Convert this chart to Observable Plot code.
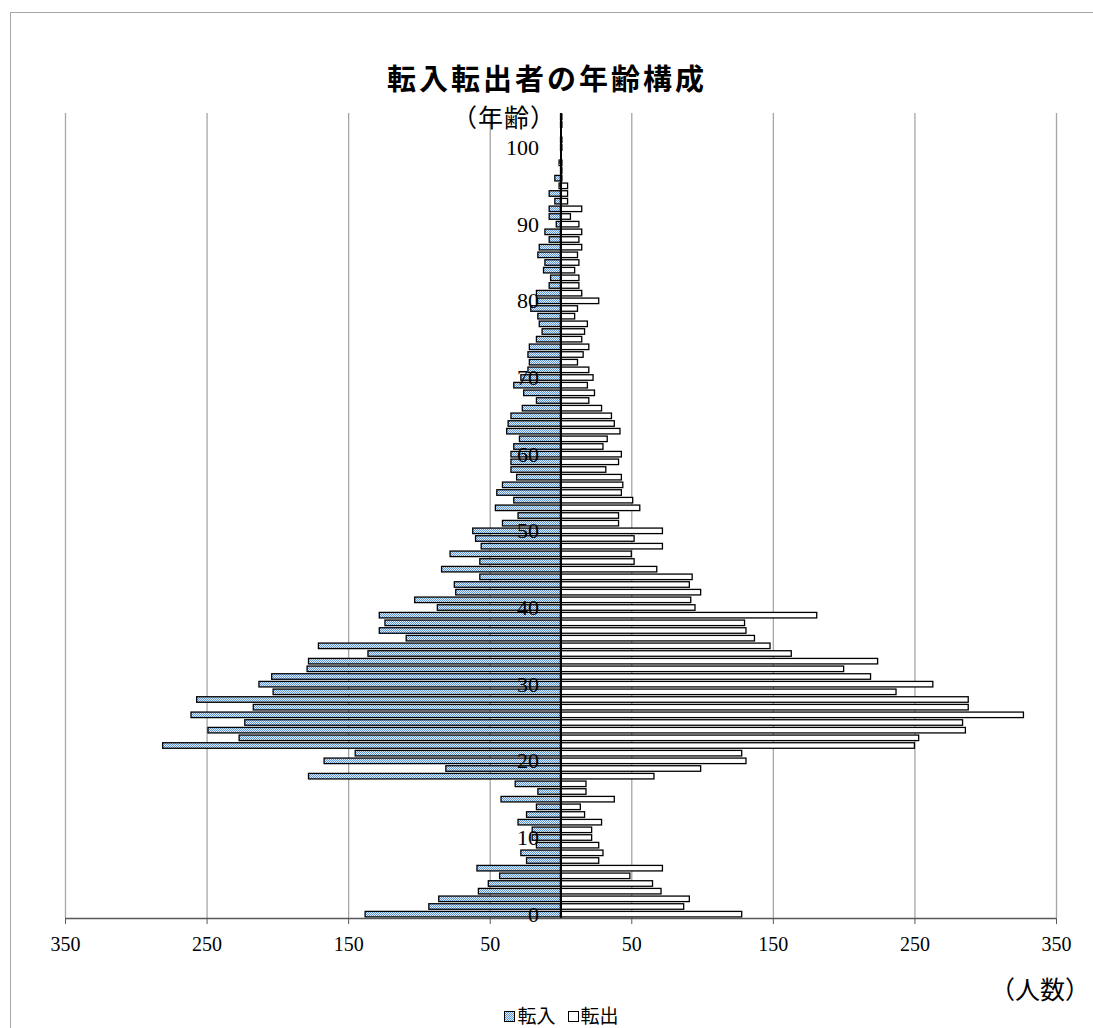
<!DOCTYPE html>
<html>
<head>
<meta charset="utf-8">
<script src="https://cdn.jsdelivr.net/npm/d3@7"></script>
<script src="https://cdn.jsdelivr.net/npm/@observablehq/plot@0.6"></script>
<style>
  body { margin: 0; background: #fff; }
  #wrap { position: relative; width: 1093px; height: 1028px; overflow: hidden; background: #fff; }
  #border { position: absolute; left: 10px; top: 12px; width: 1300px; height: 1300px; border: 1.5px solid #a6a6a6; box-sizing: border-box; }
  #title { position: absolute; top: 62px; left: 0; width: 1094px; text-align: center; font-family: "Noto Sans CJK JP", sans-serif; font-weight: bold; font-size: 29px; letter-spacing: 3px; line-height: 30px; color: #000; }
  #chart { position: absolute; left: 0; top: 100px; }
  .lab { position: absolute; font-family: "Noto Sans CJK JP", serif; color: #000; white-space: nowrap; }
  #ylab { left: 452px; top: 103px; font-size: 25px; line-height: 26px; letter-spacing: 1px; }
  #xlab { left: 990px; top: 975px; font-size: 25px; line-height: 26px; }
  #legend { position: absolute; left: 0; width: 1123px; top: 1005px; text-align: center; font-family: "Noto Sans CJK JP", sans-serif; font-size: 19px; line-height: 20px; color: #000; }
  .sw { display: inline-block; width: 9px; height: 9px; border: 1px solid #000; margin-right: 2px; vertical-align: 1px; }
  .sw.in { background: repeating-conic-gradient(#5d98dc 0 25%, #e2ecf8 0 50%) 0 0 / 2px 2px; }
  .sw.out { background: #fff; margin-left: 12px; }
</style>
</head>
<body>
<div id="wrap">
  <div id="border"></div>
  <div id="title">転入転出者の年齢構成</div>
  <div id="chart"></div>
  <div class="lab" id="ylab">（年齢）</div>
  <div class="lab" id="xlab">（人数）</div>
  <div id="legend"><span class="sw in"></span>転入<span class="sw out"></span>転出</div>
</div>
<script>
// Ages 0..104 (categories)
const ages = d3.range(0, 105);
// 転入 (inflow) by age
const inflow = [
  138, 93, 86, 58, 51, 43, 59, 24, 28, 17,
  20, 20, 30, 24, 17, 42, 16, 32, 178, 81,
  167, 145, 281, 227, 249, 223, 261, 217, 257, 203,
  213, 204, 179, 178, 136, 171, 109, 128, 124, 128,
  87, 103, 74, 75, 57, 84, 57, 78, 56, 60,
  62, 41, 30, 46, 33, 45, 41, 31, 35, 35,
  35, 33, 29, 38, 37, 35, 27, 17, 26, 33,
  28, 23, 22, 23, 22, 17, 13, 15, 16, 21,
  17, 17, 8, 7, 12, 11, 16, 15, 8, 11,
  3, 8, 8, 4, 8, 1, 4, 0, 1, 0,
  0, 0, 0, 0, 0
];
// 転出 (outflow) by age
const outflow = [
  128, 87, 91, 71, 65, 49, 72, 27, 30, 27,
  22, 22, 29, 17, 14, 38, 18, 18, 66, 99,
  131, 128, 250, 253, 286, 284, 327, 288, 288, 237,
  263, 219, 200, 224, 163, 148, 137, 131, 130, 181,
  95, 92, 99, 91, 93, 68, 52, 50, 72, 52,
  72, 41, 41, 56, 51, 43, 44, 43, 32, 41,
  43, 30, 33, 42, 38, 36, 29, 20, 24, 19,
  23, 20, 12, 16, 20, 15, 17, 19, 10, 12,
  27, 15, 13, 13, 10, 13, 12, 15, 13, 15,
  13, 7, 15, 5, 5, 5, 1, 1, 1, 0,
  1, 1, 0, 1, 1
];
const xTicks = [-350, -250, -150, -50, 50, 150, 250, 350];
const yTicks = [0, 10, 20, 30, 40, 50, 60, 70, 80, 90, 100];

const data = ages.map((a, i) => ({age: a, inn: inflow[i], out: outflow[i]}));
const half = 0.36;
const SENT = "#5b9bd5";

const plot = Plot.plot({
  width: 1093,
  height: 863,
  marginLeft: 65,
  marginRight: 37,
  marginTop: 13,
  marginBottom: 45,
  x: {domain: [-350, 350]},
  y: {domain: [-0.5, 104.5], axis: null},
  style: {fontFamily: "'Liberation Serif', serif", background: "transparent", color: "#000"},
  marks: [
    Plot.ruleX(xTicks, {stroke: "#a6a6a6", strokeWidth: 1.3}),
    Plot.rect(data, {x1: 0, x2: d => -d.inn, y1: d => d.age - half, y2: d => d.age + half, fill: SENT, stroke: "#000", strokeWidth: 1.3}),
    Plot.rect(data, {x1: 0, x2: "out", y1: d => d.age - half, y2: d => d.age + half, fill: "#fff", stroke: "#000", strokeWidth: 1.3}),
    Plot.ruleX([0], {stroke: "#000", strokeWidth: 2}),
    Plot.ruleY([-0.5], {stroke: "#595959", strokeWidth: 1.5}),
    Plot.axisX(xTicks, {tickFormat: d => Math.abs(d), tickSize: 6, tickPadding: 12, fontSize: 20, stroke: "#595959", color: "#000", label: null}),
    Plot.text(yTicks, {x: 0, y: d => d, dx: -22, textAnchor: "end", fontSize: 22, fill: "#000"})
  ]
});

const svgEl = plot.tagName.toLowerCase() === "svg" ? plot : plot.querySelector("svg");
const svg = d3.select(svgEl);
const defs = svg.insert("defs", ":first-child");
const pat = defs.append("pattern").attr("id", "chk").attr("patternUnits", "userSpaceOnUse").attr("width", 2).attr("height", 2);
pat.append("rect").attr("width", 2).attr("height", 2).attr("fill", "#e2ecf8");
pat.append("rect").attr("width", 1).attr("height", 1).attr("fill", "#5d98dc");
pat.append("rect").attr("x", 1).attr("y", 1).attr("width", 1).attr("height", 1).attr("fill", "#5d98dc");
svg.selectAll(`[fill="${SENT}"]`).attr("fill", "url(#chk)");

document.getElementById("chart").appendChild(plot);
</script>
</body>
</html>
